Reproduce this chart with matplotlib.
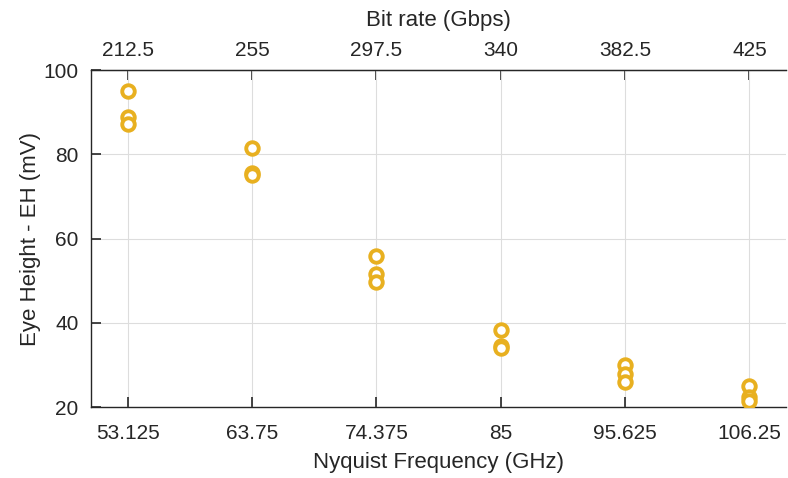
import numpy as np
import matplotlib.pyplot as plt

plt.rcParams['font.family'] = ['Liberation Sans', 'DejaVu Sans']

# Nyquist frequencies (GHz) and measured eye heights (mV), three runs each
nyquist = [53.125, 63.75, 74.375, 85, 95.625, 106.25]
eh_run1 = [95.0, 81.4, 55.8, 38.3, 30.0, 25.0]
eh_run2 = [88.8, 75.5, 51.6, 34.5, 27.8, 22.4]
eh_run3 = [87.2, 75.0, 49.7, 34.1, 25.9, 21.4]

bitrate_labels = ['212.5', '255', '297.5', '340', '382.5', '425']
nyq_labels = ['53.125', '63.75', '74.375', '85', '95.625', '106.25']

col = '#E8B020'
dark = '#262626'

fig = plt.figure(figsize=(7.88, 4.78), dpi=100)
ax = fig.add_axes([0.1155, 0.1485, 0.882, 0.705])

for run in (eh_run1, eh_run2, eh_run3):
    ax.plot(nyquist, run, 'o', ls='none', mfc='white', mec=col,
            ms=9, mew=2.8, zorder=3)

ax.set_xlim(50.0, 109.375)
ax.set_ylim(20, 100)
ax.set_xticks(nyquist)
ax.set_xticklabels(nyq_labels)
ax.set_yticks([20, 40, 60, 80, 100])
ax.grid(True, color='#DDDDDD', lw=0.8)
ax.set_axisbelow(True)

ax.spines['right'].set_visible(False)
for s in ('left', 'bottom', 'top'):
    ax.spines[s].set_color(dark)
    ax.spines[s].set_linewidth(1.0)
ax.tick_params(direction='in', length=7, width=1.2, colors=dark,
               labelsize=15, labelcolor=dark)
ax.tick_params(axis='x', pad=12)
ax.tick_params(axis='y', pad=9)

ax.set_xlabel('Nyquist Frequency (GHz)', fontsize=16, color=dark, labelpad=7)
ax.set_ylabel('Eye Height - EH (mV)', fontsize=16, color=dark, labelpad=2)

top = ax.secondary_xaxis('top', functions=(lambda f: f * 4, lambda b: b / 4))
top.set_xticks([float(b) for b in bitrate_labels])
top.set_xticklabels(bitrate_labels)
top.tick_params(direction='in', length=7, width=1.2, colors=dark,
                labelsize=15, labelcolor=dark, pad=7)
top.set_xlabel('Bit rate (Gbps)', fontsize=16, color=dark, labelpad=11)
top.spines['top'].set_color(dark)

fig.savefig('out.png', dpi=100)
